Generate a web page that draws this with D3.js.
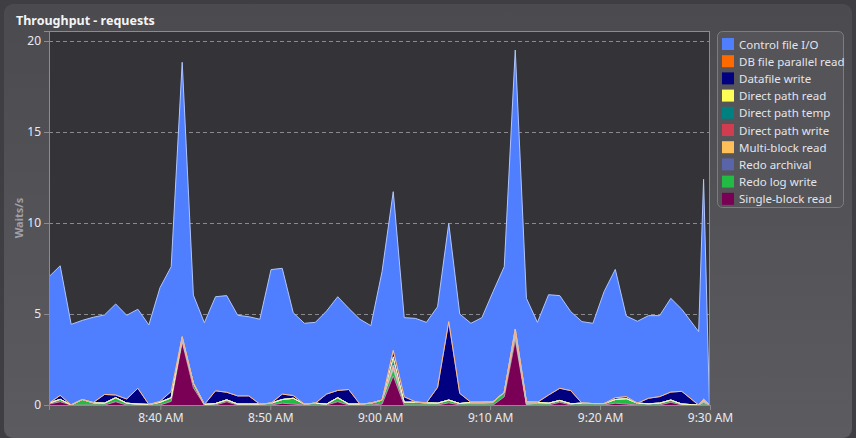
<!DOCTYPE html>
<html>
<head>
<meta charset="utf-8">
<script src="https://cdn.jsdelivr.net/npm/d3@7/dist/d3.min.js"></script>
<style>
  html, body { margin: 0; padding: 0; background: #3c3c40; }
  svg { display: block; }
  text { font-family: "Segoe UI", "Noto Sans", "Open Sans", sans-serif; }
</style>
</head>
<body>
<svg id="chart" width="856" height="438"></svg>
<script>
// ---------------- DATA ----------------
const times = [
  "08:29:52","08:30:53","08:31:53","08:32:54","08:33:54","08:34:55","08:35:56","08:36:56","08:37:57","08:38:57",
  "08:39:58","08:40:59","08:41:59","08:43:00","08:44:00","08:45:01","08:46:02","08:47:02","08:48:03","08:49:03",
  "08:50:04","08:51:05","08:52:05","08:53:06","08:54:06","08:55:07","08:56:08","08:57:08","08:58:09","08:59:09",
  "09:00:10","09:01:11","09:02:11","09:03:12","09:04:12","09:05:13","09:06:14","09:07:14","09:08:15","09:09:15",
  "09:10:16","09:11:17","09:12:17","09:13:18","09:14:18","09:15:19","09:16:20","09:17:20","09:18:21","09:19:21",
  "09:20:22","09:21:23","09:22:23","09:23:24","09:24:24","09:25:25","09:26:26","09:27:26","09:28:58","09:29:25",
  "09:29:57"
];

const controlFileIO = [
  6.95,7.12,4.43,4.35,4.68,4.37,5.00,4.60,4.34,4.37,
  6.25,6.85,15.08,4.84,4.49,5.17,5.31,4.43,4.35,4.66,
  7.34,6.91,4.55,4.44,4.44,4.56,5.15,4.46,4.66,4.26,
  7.06,8.72,4.35,4.58,4.42,4.43,5.40,4.36,4.34,4.65,
  6.05,6.90,15.33,5.68,4.39,5.51,5.09,4.34,4.48,4.41,
  6.15,7.05,4.43,4.50,4.54,4.45,5.15,4.51,4.03,12.09,
  0
];
const dbFileParallelRead = new Array(61).fill(0);
const datafileWrite = [
  0,0.22,0,0,0.02,0.48,0.15,0.23,0.87,0,
  0.05,0.35,0,0,0,0.70,0.42,0.45,0.45,0,
  0,0.30,0.15,0,0,0.55,0.40,0.80,0,0,
  0,0.35,0.30,0.03,0,0.87,4.31,0.56,0,0,
  0,0,0,0,0,0.45,0.67,0.72,0,0,
  0,0.10,0.11,0,0.30,0.36,0.44,0.70,0,0,
  0
];
const directPathRead = [
  0,0,0,0,0,0,0,0,0,0,
  0,0,0.08,0,0,0,0,0,0,0,
  0,0,0,0,0,0,0,0,0,0,
  0,0.15,0,0,0,0,0,0,0,0,
  0,0,0.10,0.03,0,0,0,0,0,0,
  0,0,0,0,0,0,0,0,0,0,
  0
];
const directPathTemp = [
  0,0,0,0,0,0,0,0,0,0,
  0,0,0.05,0,0,0,0,0,0,0,
  0,0,0,0,0,0,0,0,0,0,
  0,0.30,0,0,0,0,0,0,0,0,
  0,0,0.10,0,0,0,0,0,0,0,
  0,0,0,0,0,0,0,0,0,0,
  0
];
const directPathWrite = [
  0,0,0,0,0,0,0,0,0,0,
  0,0,0,0,0,0,0,0,0,0,
  0,0,0,0,0,0,0,0,0,0,
  0,0.05,0,0,0,0,0,0,0,0,
  0,0,0,0,0,0,0,0,0,0,
  0,0,0,0,0,0,0,0,0,0,
  0
];
const multiBlockRead = [
  0,0,0,0,0,0,0,0,0,0,
  0,0,0.05,0,0,0,0,0,0,0,
  0,0,0,0,0,0,0,0,0,0,
  0,0.10,0,0,0,0,0,0,0.05,0.05,
  0.05,0,0.10,0.10,0.05,0,0,0,0,0,
  0,0,0,0,0,0,0,0,0,0.16,
  0
];
const redoArchival = [
  0,0,0,0,0,0,0,0,0,0,
  0,0,0,0,0,0,0,0,0,0,
  0,0,0,0,0,0,0,0,0,0,
  0,0.10,0,0,0,0,0,0,0,0,
  0,0,0,0,0,0,0,0,0,0,
  0,0,0,0,0,0,0,0,0,0,
  0
];
const redoLogWrite = [
  0.05,0.13,0,0.30,0.12,0.10,0.22,0.10,0.05,0.03,
  0.15,0.20,0.12,0.25,0.03,0.08,0.10,0.05,0.05,0.05,
  0.10,0.20,0.32,0.05,0.10,0.05,0.22,0.05,0.05,0.10,
  0.22,0.35,0.15,0.15,0.12,0.10,0.15,0.08,0.10,0.10,
  0.13,0.25,0.30,0.05,0.10,0.10,0.10,0.07,0.10,0.08,
  0.08,0.20,0.30,0.10,0.07,0.10,0.12,0.05,0,0.15,
  0
];
const singleBlockRead = [
  0.05,0.18,0,0,0,0,0.18,0,0,0,
  0,0.20,3.45,0.95,0,0,0.18,0,0,0,
  0,0.10,0.05,0,0,0,0.18,0,0,0,
  0.05,1.60,0,0,0,0,0.12,0,0,0,
  0,0.45,3.57,0,0,0,0.15,0,0,0,
  0,0.10,0.05,0,0,0,0.15,0,0,0,
  0
];

const legendNames = [
  "Control file I/O","DB file parallel read","Datafile write","Direct path read","Direct path temp",
  "Direct path write","Multi-block read","Redo archival","Redo log write","Single-block read"
];
const legendColors = [
  "#4f7fff","#ff6a00","#000080","#ffff55","#008080",
  "#d23c50","#ffc05a","#5a64a8","#22bb44","#7a0055"
];
const seriesValues = [
  controlFileIO, dbFileParallelRead, datafileWrite, directPathRead, directPathTemp,
  directPathWrite, multiBlockRead, redoArchival, redoLogWrite, singleBlockRead
];
const yTicks = [0, 5, 10, 15, 20];
const xTickLabels = ["8:40 AM","8:50 AM","9:00 AM","9:10 AM","9:20 AM","9:30 AM"];
const xTickTimes = ["08:40:00","08:50:00","09:00:00","09:10:00","09:20:00","09:30:00"];
const xDomain = ["08:29:52","09:30:00"];
const title = "Throughput - requests";
const yTitle = "Waits/s";

// ---------------- LAYOUT ----------------
const W = 856, H = 438;
const plot = { left: 49, top: 31, right: 710, bottom: 405 };
const parseT = d3.timeParse("%H:%M:%S");

const svg = d3.select("#chart");
const defs = svg.append("defs");
const grad = defs.append("linearGradient").attr("id","panelGrad").attr("x1",0).attr("y1",0).attr("x2",0).attr("y2",1);
grad.append("stop").attr("offset","0%").attr("stop-color","#4a4a4f");
grad.append("stop").attr("offset","100%").attr("stop-color","#5b5b60");

svg.append("rect").attr("x",0).attr("y",0).attr("width",W).attr("height",H).attr("fill","#3f3f43");
svg.append("rect").attr("x",4).attr("y",4).attr("width",W-8).attr("height",H-4).attr("rx",9)
  .attr("fill","url(#panelGrad)");

// title
svg.append("text").attr("x",16).attr("y",25).attr("fill","#f4f4f4")
  .attr("font-size",12.5).attr("font-weight","bold").text(title);

// plot background
svg.append("rect").attr("x",plot.left).attr("y",plot.top)
  .attr("width",plot.right-plot.left).attr("height",plot.bottom-plot.top).attr("fill","#343438");

const x = d3.scaleTime().domain(xDomain.map(parseT)).range([plot.left, plot.right]);
const y = d3.scaleLinear().domain([0, 20.55]).range([plot.bottom, plot.top]);

// grid lines
svg.append("g").selectAll("line").data(yTicks.filter(d => d > 0)).join("line")
  .attr("x1",plot.left).attr("x2",plot.right)
  .attr("y1",d => Math.round(y(d))+0.5).attr("y2",d => Math.round(y(d))+0.5)
  .attr("stroke","#8a8a8e").attr("stroke-dasharray","4,3").attr("stroke-width",1);

// stacked data
const rows = times.map((t, i) => {
  const r = { time: parseT(t) };
  legendNames.forEach((n, j) => r[n] = seriesValues[j][i]);
  return r;
});
const stackKeys = legendNames.slice().reverse(); // bottom: Single-block read ... top: Control file I/O
const colorOf = n => legendColors[legendNames.indexOf(n)];
const layers = d3.stack().keys(stackKeys)(rows);

defs.append("clipPath").attr("id","plotClip").append("rect")
  .attr("x",plot.left).attr("y",plot.top).attr("width",plot.right-plot.left).attr("height",plot.bottom-plot.top);

const area = d3.area().x(d => x(d.data.time)).y0(d => y(d[0])).y1(d => y(d[1]));
const topLine = d3.line().x(d => x(d.data.time)).y(d => y(d[1]));

const g = svg.append("g").attr("clip-path","url(#plotClip)");
g.selectAll("path.area").data(layers).join("path").attr("class","area")
  .attr("d", area).attr("fill", d => colorOf(d.key));
g.selectAll("path.top").data(layers).join("path").attr("class","top")
  .attr("d", topLine).attr("fill","none")
  .attr("stroke", d => d3.interpolateRgb(colorOf(d.key), "#ffffff")(0.55))
  .attr("stroke-width",1).attr("stroke-linejoin","round");

// plot frame
svg.append("rect").attr("x",plot.left+0.5).attr("y",plot.top+0.5)
  .attr("width",plot.right-plot.left-1).attr("height",plot.bottom-plot.top)
  .attr("fill","none").attr("stroke","#8c8c90").attr("stroke-width",1);

// y axis
const yAxis = svg.append("g").attr("transform",`translate(${plot.left},0)`)
  .call(d3.axisLeft(y).tickValues(yTicks).tickSize(5).tickPadding(3).tickFormat(d3.format("d")));
yAxis.select(".domain").attr("stroke","#8c8c90");
yAxis.selectAll(".tick line").attr("stroke","#8c8c90");
yAxis.selectAll(".tick text").attr("fill","#e8eaf0").attr("font-size",12)
  .style("font-family",'"Segoe UI","Noto Sans","Open Sans",sans-serif');

// x axis
const xAxis = svg.append("g").attr("transform",`translate(0,${plot.bottom})`)
  .call(d3.axisBottom(x).tickValues(xTickTimes.map(parseT)).tickSize(5).tickPadding(3)
    .tickFormat((d, i) => xTickLabels[i]));
xAxis.select(".domain").attr("stroke","#8c8c90");
xAxis.selectAll(".tick line").attr("stroke","#8c8c90");
xAxis.selectAll(".tick text").attr("fill","#e8eaf0").attr("font-size",12)
  .style("font-family",'"Segoe UI","Noto Sans","Open Sans",sans-serif');

// y title
svg.append("text").attr("transform","translate(23,218) rotate(-90)").attr("text-anchor","middle")
  .attr("fill","#a0a0a8").attr("font-size",11).attr("font-weight","bold").text(yTitle);

// legend
const lg = svg.append("g");
lg.append("rect").attr("x",717.5).attr("y",31.5).attr("width",126).attr("height",176).attr("rx",5)
  .attr("fill","#545459").attr("stroke","#7c7c82");
const items = lg.selectAll("g.item").data(legendNames).join("g").attr("class","item")
  .attr("transform",(d,i) => `translate(722,${37 + i*17.2})`);
items.append("rect").attr("x",0).attr("y",1).attr("width",12).attr("height",12)
  .attr("fill",(d,i) => legendColors[i]);
items.append("text").attr("x",17).attr("y",11.5).attr("fill","#e4e4ea").attr("font-size",11.5).text(d => d);
</script>
</body>
</html>
